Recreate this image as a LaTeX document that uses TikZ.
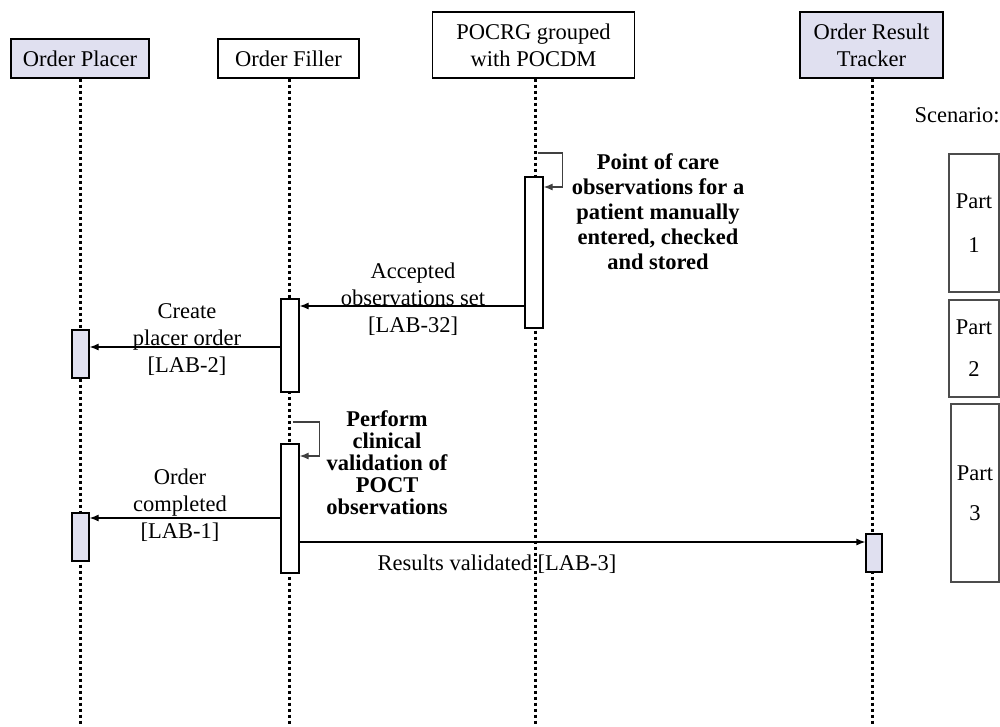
\documentclass[tikz,border=0pt]{standalone}
\usepackage{fontspec}
\setmainfont{Liberation Serif}
\usetikzlibrary{arrows.meta}
\definecolor{actorfill}{RGB}{224,224,240}

\begin{document}
\begin{tikzpicture}[x=1pt,y=-1pt,
  font=\fontsize{22.5}{27}\selectfont,
  actor/.style={draw,shape=rectangle,line width=1.2pt,inner sep=0pt,align=center},
  bar/.style={draw,shape=rectangle,line width=1.2pt,fill=white,minimum width=18pt,inner sep=0pt},
  lifeline/.style={line width=3pt,dash pattern=on 3pt off 3pt},
  msg/.style={line width=1.2pt,-{Latex[length=9pt,width=7pt]}},
  selfloop/.style={line width=1.2pt,draw=black!75,-{Latex[length=9pt,width=7pt]}},
  part/.style={draw=black!70,shape=rectangle,line width=1.5pt,minimum width=50pt,inner sep=0pt,align=center}]
  \useasboundingbox (0,0) rectangle (1000,726);
  % actors
  \node[actor,fill=actorfill,minimum width=138pt,minimum height=39pt] (placer) at (80,58.5) {Order Placer};
  \node[actor,minimum width=141pt,minimum height=39pt] (filler) at (288.5,58.5) {Order Filler};
  \node[actor,minimum width=202pt,minimum height=66pt] (poc) at (533.5,45) {POCRG grouped\\with POCDM};
  \node[actor,fill=actorfill,minimum width=143pt,minimum height=66pt] (tracker) at (871.5,45) {Order Result\\Tracker};
  % lifelines
  \coordinate (placerend) at (80,726);
  \coordinate (fillerend) at (289,726);
  \coordinate (pocend) at (535,726);
  \coordinate (trackerend) at (872,726);
  \draw[lifeline] (placer.south) -- (placerend);
  \draw[lifeline] (filler.south -| fillerend) -- (fillerend);
  \draw[lifeline] (poc.south -| pocend) -- (pocend);
  \draw[lifeline] (tracker.south -| trackerend) -- (trackerend);
  % activations
  \node[bar,minimum height=151pt] (pocbar) at (534,252.5) {};
  \node[bar,minimum height=93pt] (fillbar1) at (290,345.5) {};
  \node[bar,minimum height=129pt] (fillbar2) at (290,508.5) {};
  \node[bar,fill=actorfill,minimum width=17pt,minimum height=48pt] (placebar1) at (80.5,354) {};
  \node[bar,fill=actorfill,minimum width=17pt,minimum height=48pt] (placebar2) at (80.5,537) {};
  \node[bar,fill=actorfill,minimum width=16pt,minimum height=38pt] (trackbar) at (874,553) {};
  % self calls
  \coordinate (pocloop) at (537.5,153);
  \coordinate (fillloop) at (292.5,422);
  \draw[selfloop] (pocloop) -- ++(25,0) |- (pocbar.east |- 0,187);
  \draw[selfloop] (fillloop) -- ++(27,0) |- (fillbar2.east |- 0,456);
  % messages
  \draw[msg] (pocbar.west |- 0,306) -- (fillbar1.east |- 0,306);
  \draw[msg] (fillbar1.west |- 0,347) -- (placebar1.east |- 0,347);
  \draw[msg] (fillbar2.west |- 0,518) -- (placebar2.east |- 0,518);
  \draw[msg] (fillbar2.east |- 0,542) -- (trackbar.west |- 0,542);
  % labels
  \node[align=center,font=\bfseries\fontsize{22.5}{25}\selectfont] (pocnote) at (658,212) {Point of care\\observations for a\\patient manually\\entered, checked\\and stored};
  \node[align=center,font=\bfseries\fontsize{22.5}{22}\selectfont] (fillnote) at (387,463) {Perform\\clinical\\validation of\\POCT\\observations};
  \node[align=center] (acclbl) at (413,299) {Accepted\\observations set\\{[LAB-32]}};
  \node[align=center] (createlbl) at (187,340) {Create\\placer order\\{[LAB-2]}};
  \node[align=center] (donelbl) at (180,505) {Order\\completed\\{[LAB-1]}};
  \node (resultlbl) at (497,564) {Results validated [LAB-3]};
  % scenario
  \node (scen) at (957,115) {Scenario:};
  \node[part,minimum height=138pt,font=\fontsize{22.5}{44}\selectfont] (part1) at (974,223) {Part\\1};
  \node[part,minimum height=97pt,font=\fontsize{22.5}{42}\selectfont] (part2) at (974,348.5) {Part\\2};
  \node[part,minimum width=48pt,minimum height=178pt,font=\fontsize{22.5}{40}\selectfont] (part3) at (975,493) {Part\\3};
\end{tikzpicture}
\end{document}
